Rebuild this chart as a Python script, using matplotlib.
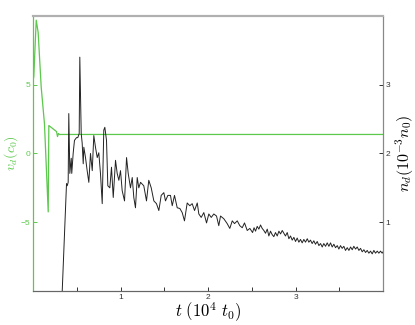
import matplotlib
matplotlib.use("Agg")
import matplotlib.pyplot as plt

plt.rcParams['mathtext.fontset'] = 'cm'
plt.rcParams['font.family'] = ['Liberation Sans', 'DejaVu Sans']

# drift velocity v_d (c_0), left axis
t_v = [0.0, 0.009, 0.037, 0.059, 0.094, 0.131, 0.174, 0.181, 0.269, 0.280, 0.291, 0.303, 4.0]
v_d = [5.3, 5.58, 9.69, 8.79, 4.80, 2.17, -4.25, 2.03, 1.59, 1.23, 1.45, 1.38, 1.38]

# density n_d (10^-3 n_0), right axis
t_n = [0.334, 0.383, 0.391, 0.402, 0.409, 0.421, 0.437, 0.443, 0.459, 0.474,
       0.497, 0.512, 0.528, 0.535, 0.551, 0.562, 0.574, 0.581, 0.600, 0.619,
       0.638, 0.657, 0.677, 0.695, 0.714, 0.734, 0.752, 0.771, 0.791, 0.809,
       0.821, 0.840, 0.855, 0.878, 0.897, 0.917, 0.943, 0.962, 0.981, 1.000,
       1.019, 1.046, 1.069, 1.088, 1.114, 1.134, 1.152, 1.171, 1.191, 1.209,
       1.229, 1.266, 1.297, 1.323, 1.351, 1.381, 1.411, 1.438, 1.465, 1.495,
       1.514, 1.541, 1.571, 1.591, 1.617, 1.648, 1.678, 1.705, 1.731, 1.762,
       1.792, 1.819, 1.846, 1.877, 1.895, 1.922, 1.952, 1.983, 2.009, 2.037,
       2.066, 2.097, 2.123, 2.143, 2.181, 2.219, 2.249, 2.277, 2.303, 2.334,
       2.363, 2.391, 2.417, 2.448, 2.478, 2.509, 2.526, 2.543, 2.562, 2.581,
       2.600, 2.619, 2.638, 2.657, 2.677, 2.695, 2.714, 2.733, 2.752, 2.771,
       2.791, 2.810, 2.829, 2.848, 2.866, 2.885, 2.905, 2.924, 2.943, 2.962,
       2.981, 3.000, 3.019, 3.038, 3.057, 3.076, 3.095, 3.114, 3.134, 3.152,
       3.171, 3.190, 3.209, 3.228, 3.248, 3.267, 3.286, 3.305, 3.323, 3.343,
       3.362, 3.381, 3.400, 3.419, 3.438, 3.457, 3.477, 3.495, 3.514, 3.533,
       3.552, 3.571, 3.591, 3.610, 3.629, 3.648, 3.666, 3.686, 3.705, 3.724,
       3.743, 3.762, 3.781, 3.800, 3.819, 3.838, 3.857, 3.876, 3.895, 3.914,
       3.934, 3.952, 3.971, 3.990, 4.006]
n_d = [0.0, 1.56, 1.53, 1.58, 2.58, 1.71, 1.93, 1.71, 2.00, 2.19,
       2.23, 2.23, 2.29, 3.40, 2.29, 2.15, 1.85, 2.09, 1.94, 1.75,
       1.58, 2.00, 1.75, 2.26, 2.09, 1.94, 2.01, 1.71, 1.27, 2.34,
       2.38, 2.19, 1.53, 1.50, 1.80, 1.36, 1.90, 1.71, 1.61, 1.75,
       1.46, 1.31, 1.94, 1.71, 1.50, 1.65, 1.36, 1.21, 1.65, 1.50,
       1.58, 1.53, 1.31, 1.61, 1.50, 1.31, 1.27, 1.17, 1.39, 1.43,
       1.31, 1.39, 1.39, 1.24, 1.39, 1.21, 1.20, 1.14, 1.02, 1.28,
       1.24, 1.27, 1.17, 1.28, 1.12, 1.07, 1.14, 0.99, 1.12, 1.07,
       1.12, 1.09, 0.95, 1.09, 1.05, 0.98, 0.91, 1.02, 0.98, 1.02,
       0.95, 0.92, 0.99, 0.88, 0.91, 0.85, 0.92, 0.87, 0.94, 0.90,
       0.96, 0.91, 0.88, 0.84, 0.90, 0.80, 0.87, 0.82, 0.79, 0.85,
       0.80, 0.87, 0.83, 0.88, 0.84, 0.80, 0.85, 0.76, 0.80, 0.74,
       0.78, 0.72, 0.77, 0.71, 0.75, 0.70, 0.75, 0.71, 0.76, 0.71,
       0.74, 0.69, 0.73, 0.68, 0.72, 0.66, 0.69, 0.64, 0.69, 0.65,
       0.70, 0.65, 0.70, 0.64, 0.68, 0.63, 0.66, 0.61, 0.66, 0.62,
       0.65, 0.59, 0.63, 0.59, 0.64, 0.60, 0.65, 0.61, 0.64, 0.59,
       0.62, 0.57, 0.60, 0.56, 0.59, 0.55, 0.58, 0.54, 0.59, 0.55,
       0.58, 0.55, 0.58, 0.55, 0.58]

green = '#5cc84c'

fig = plt.figure(figsize=(4.15, 3.25), dpi=100)
ax = fig.add_axes([0.0795, 0.1046, 0.8435, 0.8465])
ax2 = ax.twinx()

ax.plot(t_v, v_d, color=green, lw=0.9)
ax2.plot(t_n, n_d, color='#222222', lw=0.7)

ax.set_xlim(0, 4.0)
ax.set_ylim(-10, 10)
ax2.set_ylim(0, 4)

ax.set_xticks([0.5, 1, 1.5, 2, 2.5, 3, 3.5])
ax.set_xticklabels(['', '1', '', '2', '', '3', ''])
ax.set_yticks([-5, 0, 5])
ax2.set_yticks([1, 2, 3])

ax.tick_params(axis='x', direction='in', length=3, width=0.7, labelsize=6, pad=2, colors='#333333')
ax.tick_params(axis='y', direction='in', length=3, width=0.7, labelsize=6, pad=2, colors=green)
ax2.tick_params(axis='y', direction='in', length=3, width=0.7, labelsize=6, pad=2, colors='#333333')

for a in (ax, ax2):
    a.spines['top'].set_color('#b0b0b0')
    a.spines['top'].set_linewidth(1.5)
    a.spines['right'].set_color('#888888')
    a.spines['bottom'].set_color('#666666')
    a.spines['left'].set_color(green)

ax.set_xlabel(r'$t\ (10^4\ t_0)$', fontsize=12, labelpad=0)
fig.text(11 / 415, 0.53, r'$v_d(c_0)$', fontsize=10, color=green,
         rotation=90, ha='center', va='center')
ax2.set_ylabel(r'$n_d(10^{-3}n_0)$', fontsize=11.5, labelpad=2)

fig.savefig('out.png', dpi=100)
